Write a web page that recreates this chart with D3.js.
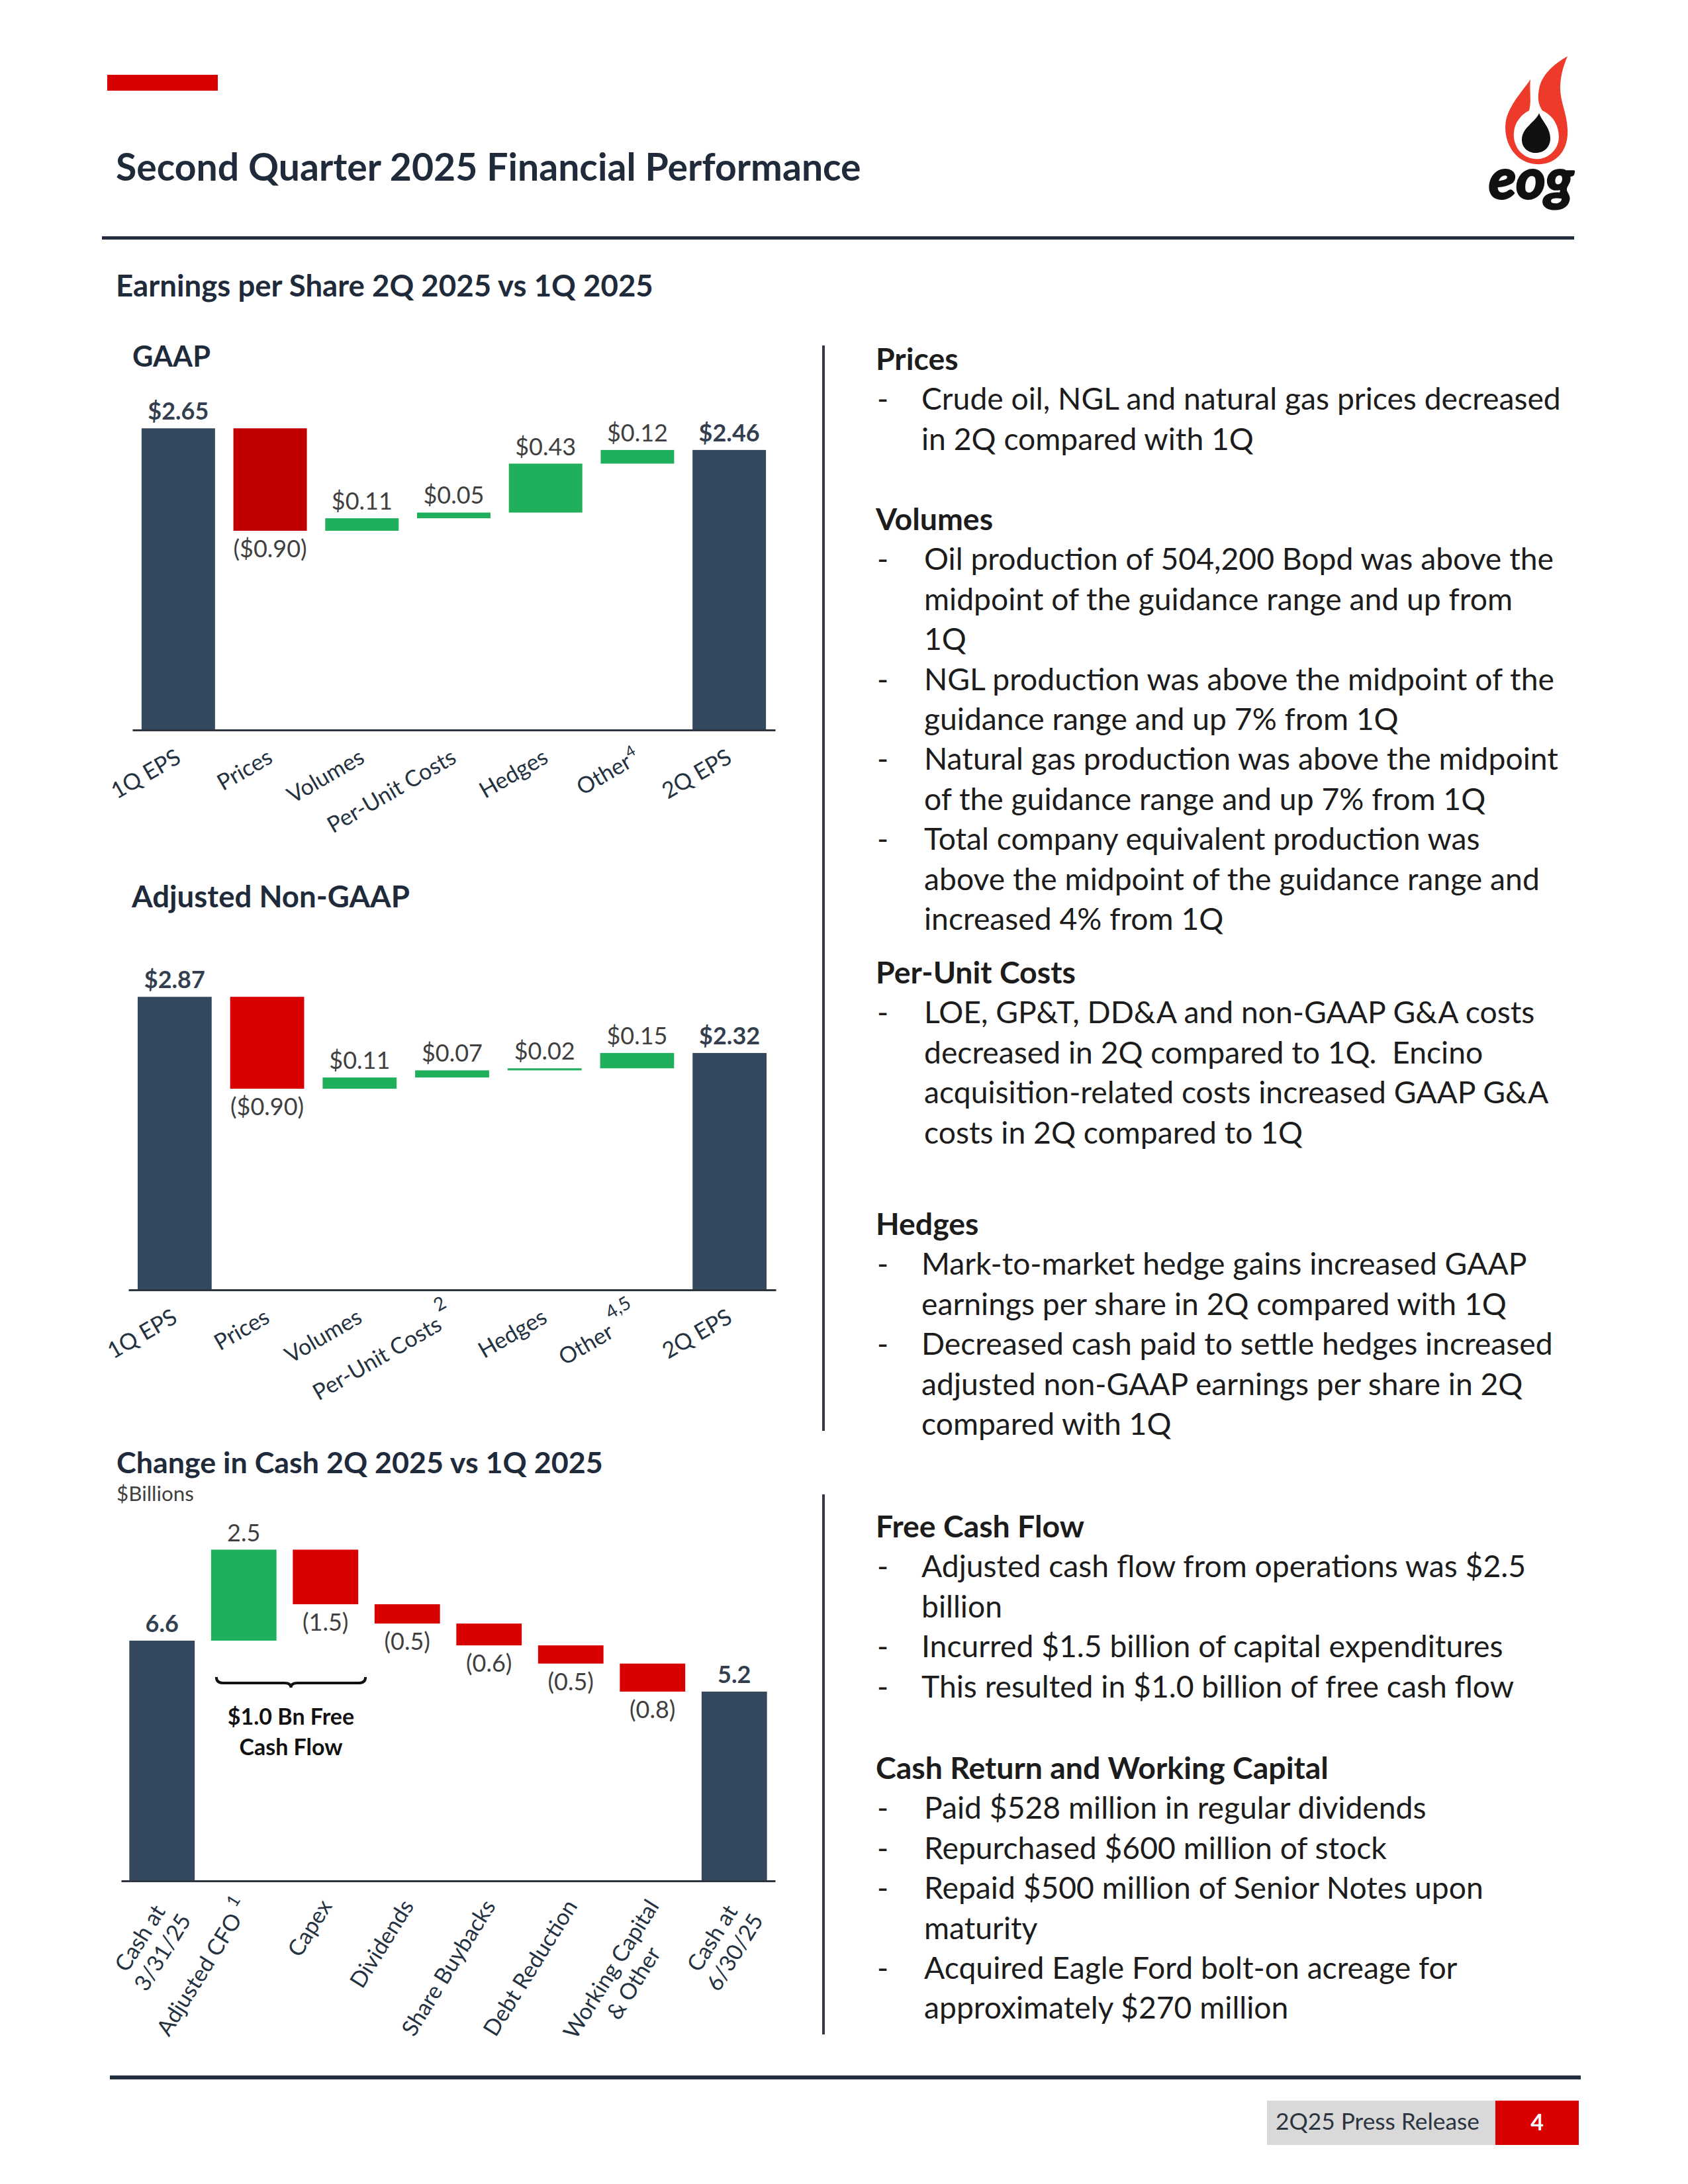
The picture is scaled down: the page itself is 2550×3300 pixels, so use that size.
<!DOCTYPE html>
<html>
<head>
<meta charset="utf-8">
<script src="https://cdn.jsdelivr.net/npm/d3@7"></script>
<style>
  body { margin: 0; background: #ffffff; }
  svg { display: block; }
  text { font-family: Lato, "Open Sans", "Noto Sans", sans-serif; }
</style>
</head>
<body>
<svg id="page" width="2550" height="3300"></svg>
<script>
// ---------------- DATA ----------------
const epsCategories = ["1Q EPS", "Prices", "Volumes", "Per-Unit Costs", "Hedges", "Other", "2Q EPS"];
const gaapValues = [2.65, -0.90, 0.11, 0.05, 0.43, 0.12, 2.46];
const gaapSuperscripts = ["", "", "", "", "", "4", ""];
const adjValues = [2.87, -0.90, 0.11, 0.07, 0.02, 0.15, 2.32];
const adjSuperscripts = ["", "", "", "2", "", "4,5", ""];

const cashCategories = [["Cash at", "3/31/25"], ["Adjusted CFO"], ["Capex"], ["Dividends"],
  ["Share Buybacks"], ["Debt Reduction"], ["Working Capital", "& Other"], ["Cash at", "6/30/25"]];
const cashSuperscripts = ["", "1", "", "", "", "", "", ""];
const cashValues = [6.6, 2.5, -1.5, -0.53, -0.6, -0.5, -0.77, 5.2];

const pageTitle = "Second Quarter 2025 Financial Performance";
const epsTitle = "Earnings per Share 2Q 2025 vs 1Q 2025";
const cashTitle = "Change in Cash 2Q 2025 vs 1Q 2025";
const cashUnit = "$Billions";
const fcfNote = ["$1.0 Bn Free", "Cash Flow"];

const sections = [
  { head: "Prices", bullets: [["Crude oil, NGL and natural gas prices decreased", "in 2Q compared with 1Q"]] },
  { head: "Volumes", bullets: [
    ["Oil production of 504,200 Bopd was above the", "midpoint of the guidance range and up from", "1Q"],
    ["NGL production was above the midpoint of the", "guidance range and up 7% from 1Q"],
    ["Natural gas production was above the midpoint", "of the guidance range and up 7% from 1Q"],
    ["Total company equivalent production was", "above the midpoint of the guidance range and", "increased 4% from 1Q"]] },
  { head: "Per-Unit Costs", bullets: [
    ["LOE, GP&T, DD&A and non-GAAP G&A costs", "decreased in 2Q compared to 1Q.\u00a0 Encino", "acquisition-related costs increased GAAP G&A", "costs in 2Q compared to 1Q"]] },
  { head: "Hedges", bullets: [
    ["Mark-to-market hedge gains increased GAAP", "earnings per share in 2Q compared with 1Q"],
    ["Decreased cash paid to settle hedges increased", "adjusted non-GAAP earnings per share in 2Q", "compared with 1Q"]] },
  { head: "Free Cash Flow", bullets: [
    ["Adjusted cash flow from operations was $2.5", "billion"],
    ["Incurred $1.5 billion of capital expenditures"],
    ["This resulted in $1.0 billion of free cash flow"]] },
  { head: "Cash Return and Working Capital", bullets: [
    ["Paid $528 million in regular dividends"],
    ["Repurchased $600 million of stock"],
    ["Repaid $500 million of Senior Notes upon", "maturity"],
    ["Acquired Eagle Ford bolt-on acreage for", "approximately $270 million"]] }
];
const footerText = "2Q25 Press Release";
const pageNumber = "4";

// ---------------- STYLE ----------------
const NAVY = "#35495e", GREEN = "#20b05c", RED = "#d90000", DARKRED = "#c00000";
const INK = "#1f2b3a", GRAY = "#404040", TXT = "#1c1c1c", LABEL = "#24313f";

const svg = d3.select("#page");
svg.append("rect").attr("width", 2550).attr("height", 3300).attr("fill", "#fff");

function fit(sel, width) {
  const w = sel.node().getComputedTextLength();
  const fs = parseFloat(sel.attr("font-size"));
  const nfs = fs * width / w;
  sel.attr("font-size", nfs);
  return nfs;
}

// ---------------- HEADER ----------------
svg.append("rect").attr("x", 162).attr("y", 113).attr("width", 167).attr("height", 24).attr("fill", RED);
const tt = svg.append("text").attr("x", 175).attr("y", 273).attr("font-size", 52).attr("font-weight", 700)
  .attr("fill", INK).text(pageTitle);
fit(tt, 1126);
svg.append("rect").attr("x", 154).attr("y", 357).attr("width", 2224).attr("height", 5).attr("fill", "#243040");

// logo
const logo = svg.append("g").attr("transform", "translate(2230,70)");
logo.append("path").attr("fill", "#ee3a2a").attr("fill-rule", "evenodd")
  .attr("d", "M82,50 C70,68 50,88 45,112 C40,140 55,175 90,178 C120,180 140,158 138,125 C137,100 126,82 127,60 C128,40 133,27 138,15 C115,28 98,45 95,65 C92,80 95,90 100,97 C118,105 128,125 124,145 C118,165 100,172 88,170 C68,168 55,150 57,130 C58,115 68,103 80,97 C84,82 80,65 82,50 Z");
logo.append("path").attr("fill", "#111")
  .attr("d", "M95,101 C90,114 69,123 69,141 C69,153 78,161 90,161 C103,161 112,152 112,139 C112,123 100,114 95,101 Z");
const eog = logo.append("text").attr("x", 19).attr("y", 230).attr("font-family", "'DejaVu Sans', sans-serif")
  .attr("font-weight", 700).attr("font-style", "italic").attr("font-size", 64).attr("fill", "#111")
  .attr("stroke", "#111").attr("stroke-width", 3).attr("stroke-linejoin", "round").text("eog");
fit(eog, 128);

// ---------------- WATERFALL HELPERS ----------------
function waterfall(values) {
  let run = 0; const n = values.length;
  return values.map((v, i) => {
    if (i === 0) { run = v; return { i, v, y0: 0, y1: v, type: "total" }; }
    if (i === n - 1) return { i, v, y0: 0, y1: v, type: "total" };
    const s = run; run += v;
    return { i, v, y0: Math.min(s, run), y1: Math.max(s, run), type: v < 0 ? "neg" : "pos" };
  });
}

function drawWaterfall(cfg) {
  const g = svg.append("g");
  const data = waterfall(cfg.values);
  const x = d3.scaleBand().domain(d3.range(cfg.values.length)).range(cfg.xRange).paddingInner(0.2).paddingOuter(0.1);
  const y = d3.scaleLinear().domain([0, cfg.yMax]).range([cfg.baseline, cfg.yTop]);
  const color = d => d.type === "total" ? NAVY : (d.type === "neg" ? cfg.negColor : GREEN);

  g.selectAll("rect.bar").data(data).join("rect").attr("class", "bar")
    .attr("x", d => x(d.i)).attr("width", x.bandwidth())
    .attr("y", d => y(d.y1)).attr("height", d => y(d.y0) - y(d.y1))
    .attr("fill", color);

  const axis = d3.axisBottom(x).tickSize(0).tickFormat("");
  const ag = g.append("g").attr("transform", `translate(0,${cfg.baseline})`).call(axis);
  ag.select(".domain").attr("stroke", "#2d3540").attr("stroke-width", 3);

  g.selectAll("text.val").data(data).join("text").attr("class", "val")
    .attr("x", d => x(d.i) + x.bandwidth() / 2)
    .attr("y", d => d.type === "neg" ? y(d.y0) + 40 : y(d.y1) - 13)
    .attr("text-anchor", "middle").attr("font-size", 36)
    .attr("font-weight", d => d.type === "total" ? 700 : 400)
    .attr("fill", d => d.type === "total" ? "#333f4f" : GRAY)
    .text(d => cfg.fmt(d));
  return { g, x, y };
}

const epsFmt = d => d.v < 0 ? "($" + Math.abs(d.v).toFixed(2) + ")" : "$" + d.v.toFixed(2);
const cashFmt = d => d.v < 0 ? "(" + Math.abs(d.v).toFixed(1) + ")" : d.v.toFixed(1);

function epsLabels(ch, cats, sups, baseline, supShift, supSize, supGap) {
  cats.forEach((c, i) => {
    const cx = ch.x(i) + ch.x.bandwidth() / 2;
    const t = ch.g.append("text").attr("transform", `translate(${cx + 6},${baseline + 48}) rotate(-30)`)
      .attr("text-anchor", "end").attr("font-size", 34).attr("fill", LABEL);
    t.append("tspan").text(c);
    if (sups[i]) t.append("tspan").attr("dx", supGap).attr("dy", -supShift).attr("font-size", supSize).text(sups[i]);
  });
}

// ---------------- EPS SECTION ----------------
const et = svg.append("text").attr("x", 175).attr("y", 448).attr("font-size", 41).attr("font-weight", 700)
  .attr("fill", INK).text(epsTitle);
fit(et, 812);
const gt = svg.append("text").attr("x", 200).attr("y", 554).attr("font-size", 42).attr("font-weight", 700)
  .attr("fill", INK).text("GAAP");
fit(gt, 118);

const gaap = drawWaterfall({ values: gaapValues, xRange: [200, 1171], yMax: 3, baseline: 1103, yTop: 587, negColor: DARKRED, fmt: epsFmt });
epsLabels(gaap, epsCategories, gaapSuperscripts, 1103, 14, 23, 1);

const at = svg.append("text").attr("x", 199).attr("y", 1371).attr("font-size", 42).attr("font-weight", 700)
  .attr("fill", INK).text("Adjusted Non-GAAP");
fit(at, 420);
const adj = drawWaterfall({ values: adjValues, xRange: [194, 1172], yMax: 3.5, baseline: 1949, yTop: 1409, negColor: RED, fmt: epsFmt });
epsLabels(adj, epsCategories, adjSuperscripts, 1949, 26, 28, 6);

// ---------------- CASH SECTION ----------------
const ct = svg.append("text").attr("x", 176).attr("y", 2226).attr("font-size", 41).attr("font-weight", 700)
  .attr("fill", INK).text(cashTitle);
fit(ct, 735);
const cu = svg.append("text").attr("x", 176).attr("y", 2268).attr("font-size", 30).attr("fill", GRAY).text(cashUnit);
fit(cu, 117);

const cash = drawWaterfall({ values: cashValues, xRange: [183, 1171], yMax: 10, baseline: 2842, yTop: 2292, negColor: RED, fmt: cashFmt });
cashCategories.forEach((lines, i) => {
  const cx = cash.x(i) + cash.x.bandwidth() / 2;
  const lg = cash.g.append("g").attr("transform", `translate(${cx + 11},${2842 + 38}) rotate(-58)`);
  const texts = lines.map((ln, k) => {
    const t = lg.append("text").attr("y", k * 40).attr("text-anchor", "middle").attr("font-size", 34)
      .attr("fill", LABEL);
    t.append("tspan").text(ln);
    if (k === 0 && cashSuperscripts[i]) {
      t.append("tspan").text(" ");
      t.append("tspan").attr("dy", -18).attr("font-size", 26).text(cashSuperscripts[i]);
    }
    return t;
  });
  const maxW = d3.max(texts, t => t.node().getComputedTextLength());
  texts.forEach(t => t.attr("x", -maxW / 2));
});

// brace + FCF note
const bx0 = cash.x(1) + 8, bx1 = cash.x(2) + cash.x.bandwidth() + 11, bm = (bx0 + bx1) / 2;
svg.append("path").attr("fill", "none").attr("stroke", "#111").attr("stroke-width", 4)
  .attr("d", `M${bx0},2534 Q${bx0},2543 ${bx0 + 10},2543 L${bm - 10},2543 Q${bm},2543 ${bm},2550 Q${bm},2543 ${bm + 10},2543 L${bx1 - 10},2543 Q${bx1},2543 ${bx1},2534`);
fcfNote.forEach((s, k) => {
  svg.append("text").attr("x", bm).attr("y", 2606 + k * 46).attr("text-anchor", "middle")
    .attr("font-size", 34).attr("font-weight", 700).attr("fill", "#111").text(s);
});

// ---------------- DIVIDERS ----------------
svg.append("rect").attr("x", 1242).attr("y", 522).attr("width", 4).attr("height", 1640).attr("fill", "#333a45");
svg.append("rect").attr("x", 1242).attr("y", 2258).attr("width", 4).attr("height", 816).attr("fill", "#333a45");

// ---------------- RIGHT COLUMN TEXT ----------------
const probe = svg.append("text").attr("font-size", 40).text(sections[0].bullets[0][0]);
const bodySize = fit(probe, 966); probe.remove();
const probeH = svg.append("text").attr("font-size", 40).attr("font-weight", 700).text(sections[5].head);
const headSize = fit(probeH, 684); probeH.remove();

const headBaselines = [559, 801, 1486, 1866, 2323, 2688];
const textX = [1392, 1396, 1396, 1392, 1392, 1396];
const LH = 60.4;
sections.forEach((s, si) => {
  let yb = headBaselines[si];
  svg.append("text").attr("x", 1323).attr("y", yb).attr("font-size", headSize).attr("font-weight", 700)
    .attr("fill", TXT).text(s.head);
  s.bullets.forEach(b => {
    b.forEach((ln, li) => {
      yb += LH;
      if (li === 0) svg.append("text").attr("x", 1325).attr("y", yb).attr("font-size", bodySize).attr("fill", TXT).text("-");
      svg.append("text").attr("x", textX[si]).attr("y", yb).attr("font-size", bodySize).attr("fill", TXT).text(ln);
    });
  });
});

// ---------------- FOOTER ----------------
svg.append("rect").attr("x", 166).attr("y", 3136).attr("width", 2222).attr("height", 6).attr("fill", "#243040");
svg.append("rect").attr("x", 1914).attr("y", 3174).attr("width", 345).attr("height", 67).attr("fill", "#d9d9d9");
svg.append("rect").attr("x", 2259).attr("y", 3174).attr("width", 126).attr("height", 67).attr("fill", RED);
const ft = svg.append("text").attr("x", 1927).attr("y", 3218).attr("font-size", 30).attr("fill", "#2b3440").text(footerText);
fit(ft, 308);
svg.append("text").attr("x", 2322).attr("y", 3219).attr("text-anchor", "middle").attr("font-size", 34)
  .attr("font-weight", 700).attr("fill", "#fff").text(pageNumber);
</script>
</body>
</html>
